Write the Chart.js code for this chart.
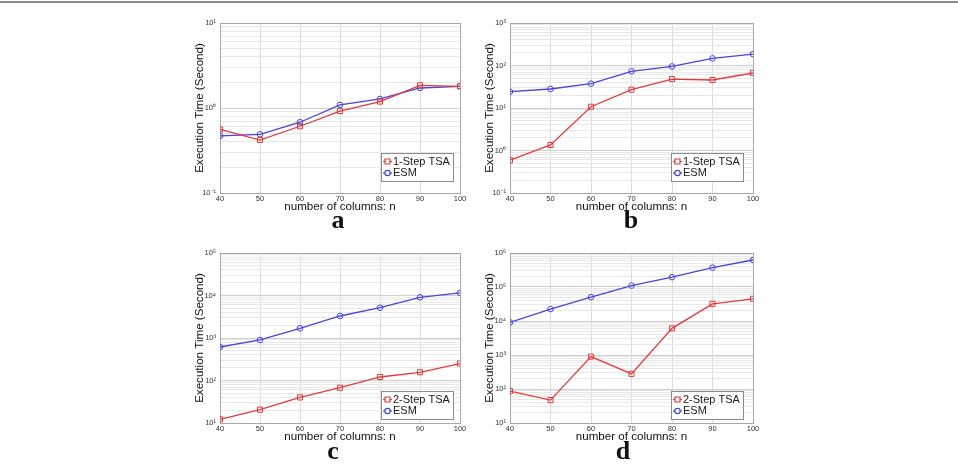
<!DOCTYPE html>
<html>
<head>
<meta charset="utf-8">
<script src="https://cdn.jsdelivr.net/npm/chart.js@4.4.0/dist/chart.umd.min.js"></script>
<style>
  html, body { margin: 0; padding: 0; background: #fff; }
  body { width: 958px; height: 468px; position: relative; overflow: hidden; font-family: "Liberation Sans", Arial, sans-serif; }
  .frame { position: absolute; left: 0; top: 1px; width: 958px; height: 2px; background: #8a8a8a; }
  .panel { position: absolute; }
  .letter { position: absolute; width: 40px; text-align: center; font: bold 26px/26px "Liberation Serif", "Times New Roman", serif; color: #111; }
</style>
</head>
<body>
<div class="frame"></div>
<div class="panel" style="left:190px; top:8px; width:282px; height:207px"><canvas id="chart-a"></canvas></div>
<div class="panel" style="left:480px; top:8px; width:285px; height:207px"><canvas id="chart-b"></canvas></div>
<div class="panel" style="left:190px; top:238px; width:282px; height:207px"><canvas id="chart-c"></canvas></div>
<div class="panel" style="left:480px; top:238px; width:285px; height:207px"><canvas id="chart-d"></canvas></div>
<div class="letter" style="left:318px; top:207px">a</div>
<div class="letter" style="left:611px; top:207px">b</div>
<div class="letter" style="left:313px; top:438px">c</div>
<div class="letter" style="left:603px; top:438px">d</div>
<script>
const columns = [40, 50, 60, 70, 80, 90, 100];

const seriesAB = ['1-Step TSA', 'ESM'];
const seriesCD = ['2-Step TSA', 'ESM'];

const tsaA = [0.56, 0.42, 0.61, 0.92, 1.19, 1.85, 1.8];
const esmA = [0.47, 0.49, 0.68, 1.09, 1.28, 1.72, 1.8];
const tsaB = [0.59, 1.35, 10.7, 27, 48, 45.6, 66.7];
const esmB = [24.2, 28, 37.4, 73, 95, 147, 186];
const tsaC = [12.2, 20.6, 40, 67.8, 121, 156, 250];
const esmC = [614, 898, 1690, 3294, 5170, 9057, 11500];
const tsaD = [86.6, 47.2, 898, 279, 6070, 32000, 44900];
const esmD = [9100, 22400, 50200, 110000, 194000, 372000, 624000];

const decadesA = [0.1, 1, 10];
const labelsA = ['10⁻¹', '10⁰', '10¹'];
const decadesB = [0.1, 1, 10, 100, 1000];
const labelsB = ['10⁻¹', '10⁰', '10¹', '10²', '10³'];
const decadesC = [10, 100, 1000, 10000, 100000];
const labelsC = ['10¹', '10²', '10³', '10⁴', '10⁵'];
const decadesD = [10, 100, 1000, 10000, 100000, 1000000];
const labelsD = ['10¹', '10²', '10³', '10⁴', '10⁵', '10⁶'];

const red = '#e23b3b';
const blue = '#4646dc';
const fontFamily = '"Liberation Sans", Arial, sans-serif';

// box around the plot area, like the matlab axes
const axesBox = {
  id: 'axesBox',
  beforeDatasetsDraw(chart) {
    const {ctx, chartArea: a} = chart;
    ctx.save();
    ctx.strokeStyle = '#a8a8a8';
    ctx.lineWidth = 1;
    ctx.strokeRect(Math.round(a.left) + 0.5, Math.round(a.top) + 0.5, Math.round(a.right - a.left), Math.round(a.bottom - a.top));
    ctx.restore();
  }
};

// legend drawn inside the plot, bottom right
const boxLegend = {
  id: 'boxLegend',
  afterDraw(chart, args, opts) {
    const {ctx, chartArea} = chart;
    const w = 72, h = 28;
    const x = Math.round(chartArea.right - opts.right - w);
    const y = Math.round(chartArea.bottom - opts.bottom - h);
    ctx.save();
    ctx.fillStyle = '#fff';
    ctx.fillRect(x, y, w, h);
    ctx.strokeStyle = '#8c8c8c';
    ctx.lineWidth = 1;
    ctx.strokeRect(x + 0.5, y + 0.5, w, h);
    ctx.font = '11px ' + fontFamily;
    ctx.textBaseline = 'middle';
    chart.data.datasets.forEach((ds, i) => {
      const cy = y + 8.5 + i * 11.5;
      ctx.strokeStyle = ds.borderColor;
      ctx.lineWidth = 1.2;
      ctx.beginPath();
      ctx.moveTo(x + 2, cy);
      ctx.lineTo(x + 11, cy);
      ctx.stroke();
      ctx.beginPath();
      if (ds.pointStyle === 'rect') {
        ctx.rect(x + 4, cy - 2.5, 5, 5);
      } else {
        ctx.arc(x + 6.5, cy, 2.7, 0, Math.PI * 2);
      }
      ctx.fillStyle = '#fff';
      ctx.fill();
      ctx.stroke();
      ctx.fillStyle = '#1a1a1a';
      ctx.fillText(ds.label, x + 12, cy);
    });
    ctx.restore();
  }
};

function isDecade(value, decades) {
  return decades.findIndex(d => Math.abs(value - d) / d < 1e-6);
}

function makeChart(id, names, tsa, esm, decades, labels, legendPos) {
  const ctx = document.getElementById(id).getContext('2d');
  return new Chart(ctx, {
    type: 'line',
    data: {
      datasets: [{
        label: names[0],
        data: columns.map((x, i) => ({x: x, y: tsa[i]})),
        borderColor: red,
        backgroundColor: 'transparent',
        borderWidth: 1.3,
        pointStyle: 'rect',
        pointRadius: 3.6,
        pointBorderWidth: 1,
        pointBackgroundColor: 'transparent',
        tension: 0
      }, {
        label: names[1],
        data: columns.map((x, i) => ({x: x, y: esm[i]})),
        borderColor: blue,
        backgroundColor: 'transparent',
        borderWidth: 1.3,
        pointStyle: 'circle',
        pointRadius: 2.8,
        pointBorderWidth: 1,
        pointBackgroundColor: 'transparent',
        tension: 0
      }]
    },
    options: {
      responsive: true,
      maintainAspectRatio: false,
      animation: false,
      layout: { padding: { top: 15, right: 12, left: 0, bottom: 0 } },
      plugins: {
        legend: { display: false },
        tooltip: { enabled: false },
        boxLegend: legendPos
      },
      scales: {
        x: {
          type: 'linear',
          min: 40,
          max: 100,
          afterFit: s => { s.height = 22; },
          ticks: {
            stepSize: 10,
            padding: 1,
            color: '#333',
            font: { family: fontFamily, size: 7.5 }
          },
          grid: { color: '#dcdcdc', drawTicks: false },
          border: { display: false },
          title: {
            display: true,
            text: 'number of columns: n',
            color: '#111',
            padding: { top: 0, bottom: 1 },
            font: { family: fontFamily, size: 11.6 }
          }
        },
        y: {
          type: 'logarithmic',
          min: decades[0],
          max: decades[decades.length - 1],
          afterFit: s => { s.width = 30; },
          afterBuildTicks: s => {
            const ticks = [];
            decades.forEach((d, i) => {
              if (i === decades.length - 1) {
                ticks.push({value: d});
                return;
              }
              for (let k = 1; k < 10; k++) ticks.push({value: Number((k * d).toPrecision(6))});
            });
            s.ticks = ticks;
          },
          ticks: {
            autoSkip: false,
            padding: 4,
            color: '#333',
            font: { family: fontFamily, size: 7.5 },
            callback: value => {
              const i = isDecade(value, decades);
              return i >= 0 ? labels[i] : '';
            }
          },
          grid: {
            drawTicks: false,
            color: c => (c.tick && isDecade(c.tick.value, decades) >= 0) ? '#cfcfcf' : '#e8e8e8'
          },
          border: { display: false },
          title: {
            display: true,
            text: 'Execution Time (Second)',
            color: '#111',
            padding: { top: 3, bottom: 0 },
            font: { family: fontFamily, size: 11.6 }
          }
        }
      }
    },
    plugins: [axesBox, boxLegend]
  });
}

makeChart('chart-a', seriesAB, tsaA, esmA, decadesA, labelsA, { right: 7, bottom: 12 });
makeChart('chart-b', seriesAB, tsaB, esmB, decadesB, labelsB, { right: 10, bottom: 12 });
makeChart('chart-c', seriesCD, tsaC, esmC, decadesC, labelsC, { right: 7, bottom: 4.5 });
makeChart('chart-d', seriesCD, tsaD, esmD, decadesD, labelsD, { right: 10, bottom: 4.5 });
</script>
</body>
</html>
